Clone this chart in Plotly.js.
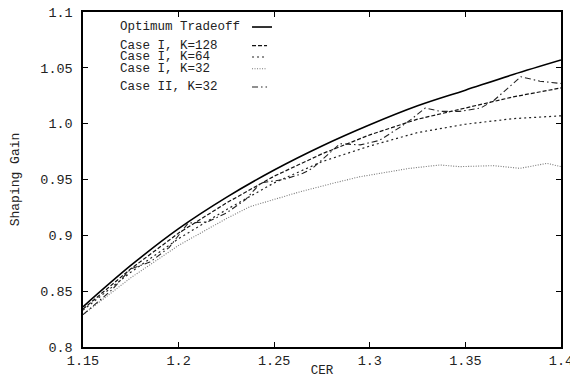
<!DOCTYPE html>
<html>
<head>
<meta charset="utf-8">
<script src="https://cdn.plot.ly/plotly-3.0.1.min.js"></script>
<style>html,body{margin:0;padding:0;background:#fff;}#chart{width:570px;height:378px;}</style>
</head>
<body>
<div id="chart"></div>
<script>
// ---- data ----
const optX = [1.15, 1.175, 1.2, 1.225, 1.25, 1.275, 1.3, 1.325, 1.35, 1.375, 1.4];
const optY = [0.836, 0.873, 0.906, 0.934, 0.9585, 0.980, 0.999, 1.016, 1.030, 1.044, 1.057];

const k128X = [1.15, 1.175, 1.2, 1.225, 1.25, 1.275, 1.3, 1.325, 1.35, 1.375, 1.4];
const k128Y = [0.834, 0.870, 0.902, 0.929, 0.953, 0.973, 0.990, 1.004, 1.014, 1.024, 1.032];

const k64X = [1.15, 1.175, 1.2, 1.225, 1.25, 1.275, 1.3, 1.325, 1.35, 1.375, 1.4];
const k64Y = [0.833, 0.867, 0.897, 0.923, 0.947, 0.966, 0.980, 0.992, 0.9995, 1.0045, 1.007];

const k32X = [1.15, 1.175, 1.2, 1.225, 1.2373, 1.2546, 1.2635, 1.2807, 1.2948, 1.3053, 1.321, 1.3367, 1.347, 1.3645, 1.3786, 1.3927, 1.4];
const k32Y = [0.829, 0.862, 0.891, 0.915, 0.9257, 0.9346, 0.939, 0.9466, 0.9525, 0.9555, 0.960, 0.963, 0.9615, 0.9624, 0.960, 0.9645, 0.9615];

const c2X = [1.15, 1.165, 1.175, 1.185, 1.195, 1.205, 1.215, 1.225, 1.235, 1.243, 1.255, 1.265, 1.27, 1.2844, 1.295, 1.305, 1.316, 1.321, 1.329, 1.337, 1.347, 1.358, 1.365, 1.379, 1.389, 1.4];
const c2Y = [0.829, 0.851, 0.870, 0.876, 0.889, 0.911, 0.912, 0.920, 0.932, 0.947, 0.950, 0.9555, 0.960, 0.982, 0.981, 0.985, 0.997, 1.003, 1.014, 1.011, 1.011, 1.014, 1.021, 1.042, 1.038, 1.036];

const xTicks = [1.15, 1.2, 1.25, 1.3, 1.35, 1.4];
const xTickText = ["1.15", "1.2", "1.25", "1.3", "1.35", "1.4"];
const yTicks = [0.8, 0.85, 0.9, 0.95, 1.0, 1.05, 1.1];
const yTickText = ["0.8", "0.85", "0.9", "0.95", "1.0", "1.05", "1.1"];

const seriesNames = ["Optimum Tradeoff", "Case I, K=128", "Case I, K=64", "Case I, K=32", "Case II, K=32"];

// ---- styles ----
const styles = [
  {color: "#000", width: 1.6, dash: "solid"},
  {color: "#111", width: 1.2, dash: "4px,2px"},
  {color: "#222", width: 1.2, dash: "2px,3px"},
  {color: "#777", width: 1.1, dash: "1px,1.5px"},
  {color: "#222", width: 1.1, dash: "6px,3px,1.5px,3px"}
];
const xs = [optX, k128X, k64X, k32X, c2X];
const ys = [optY, k128Y, k64Y, k32Y, c2Y];

const traces = xs.map((x, i) => ({
  x: x, y: ys[i], type: "scatter", mode: "lines", name: seriesNames[i],
  line: {color: styles[i].color, width: styles[i].width, dash: styles[i].dash, shape: i === 0 ? "spline" : "linear"},
  showlegend: false, hoverinfo: "skip"
}));

const font = "Liberation Mono, Courier New, monospace";
const txtColor = "#222";

// legend (text left, sample right) in paper coordinates
const legRowsY = [0.9552, 0.8994, 0.8657, 0.8308, 0.776];
const annotations = seriesNames.map((n, i) => ({
  xref: "paper", yref: "paper", x: 0.0732, y: legRowsY[i],
  xanchor: "left", yanchor: "middle", text: n, showarrow: false,
  font: {family: font, size: 12.5, color: txtColor}
}));
const shapes = seriesNames.map((n, i) => ({
  type: "line", xref: "paper", yref: "paper",
  x0: 0.3536, x1: i === 0 ? 0.3954 : 0.385, y0: legRowsY[i], y1: legRowsY[i],
  line: {color: styles[i].color, width: styles[i].width, dash: styles[i].dash}
}));

const axisCommon = {
  showline: true, linecolor: "#000", linewidth: 1.6, mirror: "ticks",
  ticks: "inside", ticklen: 5, tickwidth: 1.3, tickcolor: "#000",
  showgrid: false, zeroline: false,
  ticklabeloverflow: "allow",
  tickfont: {family: font, size: 13.5, color: txtColor}
};

const layout = {
  width: 570, height: 378,
  margin: {l: 83, r: 9, t: 12, b: 31, pad: 0},
  paper_bgcolor: "#fff", plot_bgcolor: "#fff",
  xaxis: Object.assign({}, axisCommon, {
    range: [1.15, 1.4], tickvals: xTicks, ticktext: xTickText,
    ticklabelstandoff: 0,
    title: {text: "CER", font: {family: font, size: 12.5, color: txtColor}, standoff: 2}
  }),
  yaxis: Object.assign({}, axisCommon, {
    range: [0.8, 1.1], tickvals: yTicks, ticktext: yTickText,
    ticklabelstandoff: 6,
    title: {text: "Shaping Gain", font: {family: font, size: 13, color: txtColor}, standoff: 18}
  }),
  annotations: annotations,
  shapes: shapes,
  showlegend: false
};

Plotly.newPlot("chart", traces, layout, {staticPlot: true, displayModeBar: false});
</script>
</body>
</html>
